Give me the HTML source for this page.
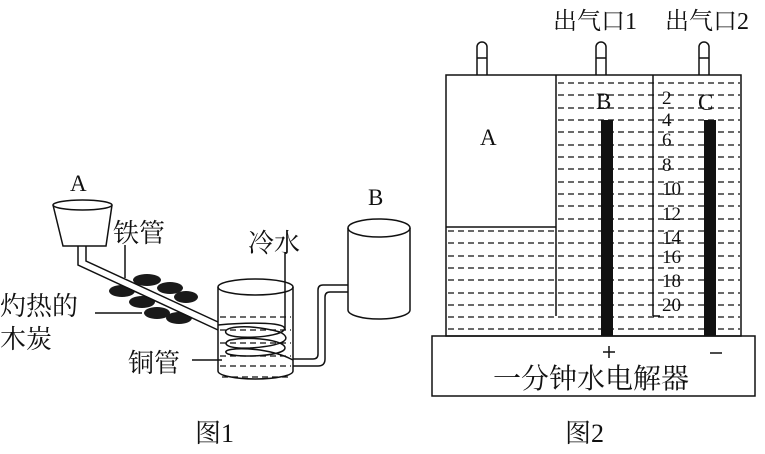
<!DOCTYPE html>
<html><head><meta charset="utf-8"><style>
body{margin:0;background:#fff;}
svg text{font-family:"Liberation Serif","Noto Serif CJK SC",serif;fill:#111;}
</style></head><body>
<svg width="765" height="449" viewBox="0 0 765 449" xmlns="http://www.w3.org/2000/svg">
<g stroke="#111" stroke-width="1.5" fill="none">
<path d="M53,205 L63,246 L106,246 L112,205" fill="#fff"/>
<ellipse cx="82.5" cy="205" rx="29.5" ry="5" fill="#fff"/>
<g fill="#1a1a1a" stroke="none">
<ellipse cx="147" cy="280" rx="14" ry="6"/>
<ellipse cx="122" cy="291" rx="13" ry="6"/>
<ellipse cx="170" cy="288" rx="13" ry="6"/>
<ellipse cx="186" cy="297" rx="12" ry="6"/>
<ellipse cx="142" cy="302" rx="13" ry="6"/>
<ellipse cx="157" cy="313" rx="13" ry="6"/>
<ellipse cx="179" cy="318" rx="13" ry="6"/>
</g>
<path d="M82,263 L218,326" stroke="#fff" stroke-width="6"/>
<path d="M86,246 L86,261 L218,322 M78,246 L78,265 L218,330"/>
<ellipse cx="255.5" cy="287" rx="37.5" ry="8"/>
<path d="M218,287 L218,371 A37.5,8 0 0 0 293,371 L293,287"/>
<g stroke-dasharray="6,4" stroke-width="1.2">
<path d="M220,317 L291,317 M220,330 L291,330 M220,343 L291,343 M220,356 L291,356 M220,366 L291,366 M222,377 L290,377"/>
</g>
<path d="M218,325 C250,322 290,322 284,330 C278,338 230,340 226,333 C222,326 250,324 280,332 C295,340 280,346 250,348 C225,349 222,343 230,340 C250,336 285,340 285,348 C285,356 240,358 228,354 C220,350 235,347 260,350 C285,354 292,360 293,360"/>
<path d="M293,359 L313,359 Q318,359 318,354 L318,290 Q318,285 323,285 L348,285"/>
<path d="M293,366 L318,366 Q325,366 325,359 L325,297 Q325,292 330,292 L348,292"/>
<ellipse cx="379" cy="228" rx="31" ry="9"/>
<path d="M348,228 L348,310 A31,9 0 0 0 410,310 L410,228"/>
<path d="M125,245 L125,278"/>
<path d="M285,253 L285,330"/>
<path d="M95,313 L142,313"/>
<path d="M192,360 L222,360"/>
<g fill="#fff">
<path d="M477,75 L477,47 A5,5 0 0 1 487,47 L487,75"/>
<path d="M596,75 L596,47 A5,5 0 0 1 606,47 L606,75"/>
<path d="M699,75 L699,47 A5,5 0 0 1 709,47 L709,75"/>
</g>
<path d="M477,58 L487,58 M596,58 L606,58 M699,58 L709,58"/>
<rect x="446" y="75" width="295" height="261"/>
<rect x="432" y="336" width="323" height="60"/>
<path d="M556,75 L556,316 M653,75 L653,316 M446,227 L556,227"/>
<g stroke-dasharray="6,4" stroke-width="1.2">
<path d="M558,83 L740,83 M558,95 L740,95 M558,108 L740,108 M558,120 L740,120 M558,132 L740,132 M558,145 L740,145 M558,157 L740,157 M558,169 L740,169 M558,182 L740,182 M558,194 L740,194 M558,206 L740,206 M558,219 L740,219 M448,231 L740,231 M448,243 L740,243 M448,256 L740,256 M448,268 L740,268 M448,280 L740,280 M448,293 L740,293 M448,305 L740,305 M448,317 L740,317 M448,329 L740,329"/>
</g>
</g>
<rect x="601" y="120" width="12" height="216" fill="#111"/>
<rect x="704" y="120" width="12" height="216" fill="#111"/>
<g font-size="23">
<text x="70" y="191">A</text>
<text x="368" y="205">B</text>
<text x="480" y="145">A</text>
<text x="596" y="109">B</text>
<text x="698" y="110">C</text>
</g>
<g font-size="26">
<text x="113" y="242">铁管</text>
<text x="248" y="252">冷水</text>
<text x="0" y="315">灼热的</text>
<text x="0" y="348">木炭</text>
<text x="128" y="372">铜管</text>
<text x="195" y="442">图1</text>
<text x="565" y="442">图2</text>
</g>
<g font-size="24">
<text x="553" y="29">出气口1</text>
<text x="665" y="29">出气口2</text>
</g>
<path d="M603,352 L615,352 M609,346 L609,358 M710,353 L722,353" stroke="#111" stroke-width="1.5"/>
<text x="493" y="388" font-size="28">一分钟水电解器</text>
<g font-size="19">
<text x="662" y="104">2</text><text x="662" y="126">4</text><text x="662" y="146">6</text>
<text x="662" y="171">8</text><text x="662" y="195">10</text><text x="662" y="220">12</text>
<text x="662" y="244">14</text><text x="662" y="263">16</text><text x="662" y="287">18</text>
<text x="662" y="311">20</text>
</g>
<path d="M653,316 L660,316" stroke="#111" stroke-width="1.5"/>
</svg>
</body></html>
